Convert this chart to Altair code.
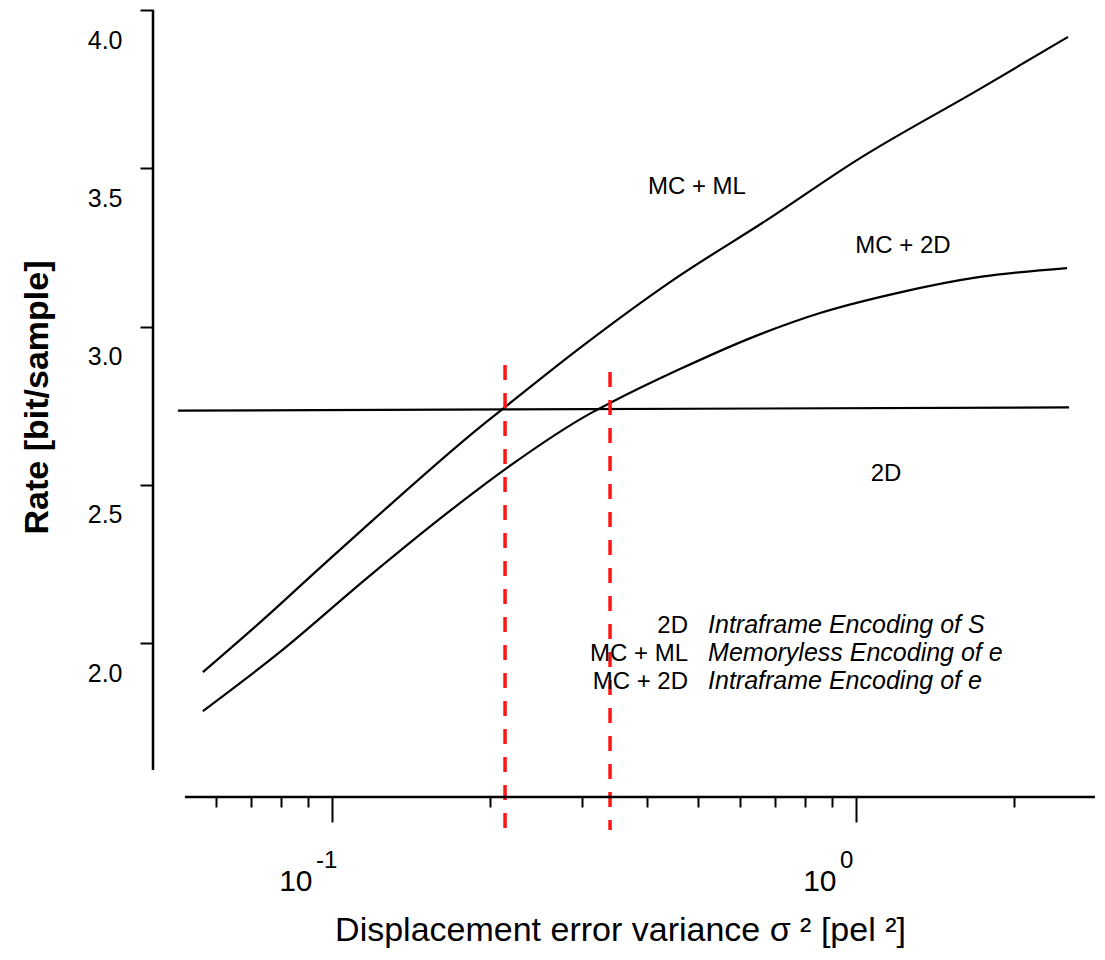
import altair as alt
import pandas as pd

FONT = "Liberation Sans, Arial, sans-serif"

# ---- scale extents (data units) ----
X_MIN, X_MAX = 0.04554, 2.858
Y_MIN, Y_MAX = 1.4105, 4.0

# ---- curves ----
MCML_X = [0.0567, 0.0738, 0.0961, 0.1197, 0.1916, 0.2139, 0.2974, 0.4474, 0.6764, 1.004, 1.724, 2.538]
MCML_Y = [1.909, 2.074, 2.247, 2.389, 2.683, 2.746, 2.933, 3.147, 3.337, 3.526, 3.751, 3.915]

MC2D_X = [0.0567, 0.0796, 0.1166, 0.1594, 0.1916, 0.2158, 0.3150, 0.3393, 0.4613, 0.6357, 0.8538, 1.197, 1.724, 2.527]
MC2D_Y = [1.786, 1.973, 2.206, 2.389, 2.491, 2.554, 2.731, 2.759, 2.866, 2.967, 3.043, 3.106, 3.157, 3.185]

INTRA_X = [0.0508, 2.55]
INTRA_Y = [2.735, 2.745]

# ---- red dashed markers ----
RED_X = [0.2139, 0.3393]
RED_TOP = [2.879, 2.857]

# ---- axis lines ----
YAXIS_LINE = [1.6, 4.0]
XAXIS_LINE_Y = 1.5148
XAXIS_LINE_X = [0.0524, X_MAX]

# ---- ticks ----
Y_TICKS = [2.0, 2.5, 3.0, 3.5, 4.0]
X_TICKS = [0.06, 0.07, 0.08, 0.09, 0.1, 0.2, 0.3, 0.4, 0.5, 0.6, 0.7, 0.8, 0.9, 1.0, 2.0]
X_MAJOR = [0.1, 1.0]
X_EXP = ["-1", "0"]
EXP_Y = 1.2906

# ---- annotations ----
CURVE_LABELS = ["MC + ML", "MC + 2D", "2D"]
CURVE_LABEL_X = [0.497, 1.229, 1.141]
CURVE_LABEL_Y = [3.441, 3.255, 2.535]

LEGEND_KEYS = ["2D", "MC + ML", "MC + 2D"]
LEGEND_DESC = ["Intraframe Encoding of S", "Memoryless Encoding of e", "Intraframe Encoding of e"]
LEGEND_KEY_X = 0.478
LEGEND_DESC_X = 0.522
LEGEND_Y = [2.033, 1.944, 1.856]

# ---- tables ----
lines_df = pd.concat([
    pd.DataFrame({"series": "MC + ML", "x": MCML_X, "y": MCML_Y, "o": range(len(MCML_X))}),
    pd.DataFrame({"series": "MC + 2D", "x": MC2D_X, "y": MC2D_Y, "o": range(len(MC2D_X))}),
    pd.DataFrame({"series": "2D", "x": INTRA_X, "y": INTRA_Y, "o": range(len(INTRA_X))}),
])
red_df = pd.DataFrame({"x": RED_X, "y": RED_TOP, "bot": [Y_MIN] * len(RED_X)})
yline_df = pd.DataFrame({"x": [X_MIN], "y": [YAXIS_LINE[0]], "y2": [YAXIS_LINE[1]]})
xline_df = pd.DataFrame({"y": [XAXIS_LINE_Y], "x": [XAXIS_LINE_X[0]], "x2": [XAXIS_LINE_X[1]]})
exp_df = pd.DataFrame({"x": X_MAJOR, "t": X_EXP, "y": [EXP_Y] * len(X_MAJOR)})
clab_df = pd.DataFrame({"t": CURVE_LABELS, "x": CURVE_LABEL_X, "y": CURVE_LABEL_Y})
key_df = pd.DataFrame({"t": LEGEND_KEYS, "x": [LEGEND_KEY_X] * 3, "y": LEGEND_Y})
desc_df = pd.DataFrame({"t": LEGEND_DESC, "x": [LEGEND_DESC_X] * 3, "y": LEGEND_Y})

XS = alt.Scale(type="log", domain=[X_MIN, X_MAX], nice=False)
YS = alt.Scale(type="linear", domain=[Y_MIN, Y_MAX], nice=False, zero=False)

x_axis = alt.Axis(
    values=X_TICKS,
    tickSize={"condition": {"test": "datum.value === 0.1 || datum.value === 1", "value": 25}, "value": 10},
    tickWidth=2, tickColor="black",
    labelExpr="(datum.value === 0.1 || datum.value === 1) ? '10' : ''",
    labelAlign="right", labelOffset=-20, labelPadding=44,
    labelFont=FONT, labelFontSize=30, labelColor="black",
    labelOverlap=False, labelFlush=False, labelBound=False,
    domain=False, grid=False, offset=-33,
    title="Displacement error variance σ ² [pel ²]",
    titleFont=FONT, titleFontSize=34, titleFontWeight="normal", titleColor="black",
    titleX=467, titleY=133, titleAlign="center", titleBaseline="middle",
)
y_axis = alt.Axis(
    values=Y_TICKS, format=".1f",
    tickSize=13, tickWidth=2, tickColor="black",
    labelPadding=18, labelOffset=30,
    labelFont=FONT, labelFontSize=25, labelColor="black",
    labelOverlap=False, labelFlush=False, labelBound=False,
    domain=False, grid=False,
    title="Rate [bit/sample]",
    titleFont=FONT, titleFontSize=34, titleFontWeight="bold", titleColor="black",
    titleX=-116, titleY=387, titleAlign="center", titleBaseline="middle",
)

X_ENC = alt.X("x:Q", scale=XS, axis=x_axis)
Y_ENC = alt.Y("y:Q", scale=YS, axis=y_axis)

curves = alt.Chart(lines_df).mark_line(color="black", strokeWidth=2.2, interpolate="monotone").encode(
    x=X_ENC, y=Y_ENC, detail="series:N", order="o:Q",
)

red = alt.Chart(red_df).mark_rule(color="#ff1414", strokeWidth=3.5, strokeDash=[15, 13]).encode(
    x=X_ENC, y=Y_ENC, y2="bot:Q",
)

yline = alt.Chart(yline_df).mark_rule(color="black", strokeWidth=2.5).encode(
    x=X_ENC, y=Y_ENC, y2="y2:Q",
)
xline = alt.Chart(xline_df).mark_rule(color="black", strokeWidth=2.5).encode(
    x=X_ENC, x2="x2:Q", y=Y_ENC,
)

exps = alt.Chart(exp_df).mark_text(font=FONT, fontSize=24, align="left", baseline="alphabetic", dx=-16, color="black").encode(
    x=X_ENC, y=Y_ENC, text="t:N",
)

clabs = alt.Chart(clab_df).mark_text(font=FONT, fontSize=24, align="center", baseline="middle", color="black").encode(
    x=X_ENC, y=Y_ENC, text="t:N",
)

keys = alt.Chart(key_df).mark_text(font=FONT, fontSize=24, align="right", baseline="alphabetic", color="black").encode(
    x=X_ENC, y=Y_ENC, text="t:N",
)
descs = alt.Chart(desc_df).mark_text(font=FONT, fontSize=25, fontStyle="italic", align="left", baseline="alphabetic", color="black").encode(
    x=X_ENC, y=Y_ENC, text="t:N",
)

chart = alt.layer(curves, red, yline, xline, exps, clabs, keys, descs).properties(
    width=942, height=820,
    padding={"left": 145, "top": 2, "right": 0, "bottom": 120},
    autosize=alt.AutoSizeParams(type="none"),
    background="white",
).configure_view(stroke=None)

chart.save("out.html", embed_options={"renderer": "svg", "actions": False})
